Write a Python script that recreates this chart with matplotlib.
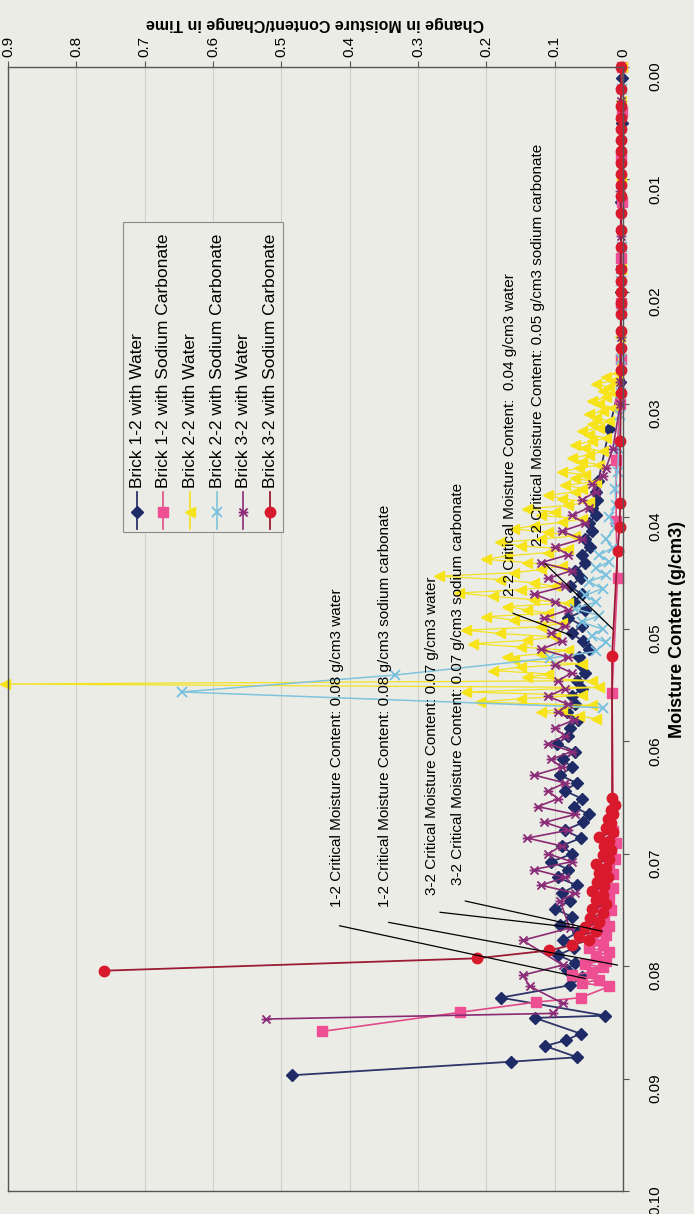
import numpy as np
import matplotlib
matplotlib.use("Agg")
import matplotlib.pyplot as plt
from matplotlib.path import Path
from matplotlib.lines import Line2D
from matplotlib.patches import Rectangle

plt.rcParams['font.family'] = ['Liberation Sans', 'DejaVu Sans']

# ---- drying-rate data: moisture content (g/cm3) and d(moisture)/dt ----
series_names = [
    "Brick 1-2 with Water",
    "Brick 1-2 with Sodium Carbonate",
    "Brick 2-2 with Water",
    "Brick 2-2 with Sodium Carbonate",
    "Brick 3-2 with Water",
    "Brick 3-2 with Sodium Carbonate",
]

b12w_m = [0.0897, 0.0885, 0.0881, 0.0871, 0.0866, 0.0860, 0.0846, 0.0844, 0.0828, 0.0817,
          0.0810, 0.0803, 0.0797, 0.0790, 0.0784, 0.0777, 0.0770, 0.0763, 0.0756, 0.0749,
          0.0742, 0.0735, 0.0728, 0.0721, 0.0714, 0.0707, 0.0700, 0.0693, 0.0686, 0.0679,
          0.0672, 0.0665, 0.0658, 0.0651, 0.0644, 0.0637, 0.0630, 0.0623, 0.0616, 0.0609,
          0.0602, 0.0595, 0.0588, 0.0581, 0.0574, 0.0567, 0.0560, 0.0553, 0.0546, 0.0539,
          0.0532, 0.0525, 0.0518, 0.0511, 0.0504, 0.0497, 0.0490, 0.0483, 0.0476, 0.0469,
          0.0462, 0.0455, 0.0448, 0.0441, 0.0434, 0.0427, 0.0420, 0.0413, 0.0406, 0.0399,
          0.0392, 0.0385, 0.0378, 0.0368, 0.0322, 0.0280, 0.0200, 0.0120, 0.0050, 0.0010]
b12w_r = [0.484, 0.164, 0.067, 0.114, 0.084, 0.062, 0.129, 0.026, 0.179, 0.078,
          0.060, 0.082, 0.070, 0.095, 0.072, 0.088, 0.066, 0.092, 0.075, 0.100,
          0.078, 0.090, 0.068, 0.095, 0.080, 0.105, 0.074, 0.090, 0.062, 0.085,
          0.058, 0.050, 0.072, 0.060, 0.085, 0.068, 0.092, 0.075, 0.088, 0.070,
          0.096, 0.080, 0.078, 0.066, 0.082, 0.070, 0.075, 0.060, 0.068, 0.055,
          0.062, 0.065, 0.050, 0.058, 0.075, 0.060, 0.080, 0.055, 0.072, 0.060,
          0.078, 0.062, 0.070, 0.055, 0.060, 0.048, 0.055, 0.045, 0.050, 0.040,
          0.045, 0.038, 0.040, 0.036, 0.020, 0.004, 0.003, 0.003, 0.002, 0.001]

b12s_m = [0.0858, 0.0841, 0.0832, 0.0828, 0.0818, 0.0815, 0.0812, 0.0808, 0.0805, 0.0801,
          0.0798, 0.0795, 0.0791, 0.0787, 0.0784, 0.0780, 0.0776, 0.0772, 0.0768, 0.0764,
          0.0760, 0.0755, 0.0750, 0.0745, 0.0740, 0.0735, 0.0730, 0.0724, 0.0718, 0.0712,
          0.0705, 0.0698, 0.0690, 0.0680, 0.0557, 0.0455, 0.0404, 0.0350, 0.0300, 0.0260,
          0.0210, 0.0170, 0.0120, 0.0080, 0.0040, 0.0000]
b12s_r = [0.440, 0.238, 0.128, 0.062, 0.020, 0.060, 0.035, 0.075, 0.045, 0.030,
          0.055, 0.025, 0.040, 0.020, 0.050, 0.030, 0.045, 0.025, 0.035, 0.020,
          0.040, 0.028, 0.018, 0.030, 0.020, 0.032, 0.015, 0.025, 0.015, 0.020,
          0.012, 0.018, 0.010, 0.014, 0.016, 0.008, 0.010, 0.010, 0.004, 0.003,
          0.003, 0.003, 0.002, 0.003, 0.002, 0.002]

b22w_m = [0.0580, 0.0577, 0.0574, 0.0571, 0.0568, 0.0565, 0.0562, 0.0559, 0.0556, 0.0552,
          0.0549, 0.0546, 0.0543, 0.0540, 0.0537, 0.0534, 0.0531, 0.0528, 0.0525, 0.0522,
          0.0519, 0.0516, 0.0513, 0.0510, 0.0507, 0.0504, 0.0501, 0.0498, 0.0495, 0.0492,
          0.0489, 0.0486, 0.0483, 0.0480, 0.0477, 0.0474, 0.0471, 0.0468, 0.0465, 0.0462,
          0.0459, 0.0456, 0.0453, 0.0450, 0.0447, 0.0444, 0.0441, 0.0438, 0.0435, 0.0432,
          0.0429, 0.0426, 0.0423, 0.0420, 0.0417, 0.0414, 0.0411, 0.0408, 0.0405, 0.0402,
          0.0399, 0.0396, 0.0393, 0.0390, 0.0387, 0.0384, 0.0381, 0.0378, 0.0375, 0.0372,
          0.0369, 0.0366, 0.0363, 0.0360, 0.0357, 0.0354, 0.0351, 0.0348, 0.0345, 0.0342,
          0.0339, 0.0336, 0.0333, 0.0330, 0.0327, 0.0324, 0.0321, 0.0318, 0.0315, 0.0312,
          0.0309, 0.0306, 0.0303, 0.0300, 0.0297, 0.0294, 0.0291, 0.0288, 0.0285, 0.0282,
          0.0279, 0.0276, 0.0272, 0.0240, 0.0180, 0.0100, 0.0030, 0.0000]
b22w_r = [0.040, 0.065, 0.120, 0.090, 0.045, 0.210, 0.150, 0.060, 0.230, 0.035,
          0.905, 0.045, 0.140, 0.110, 0.190, 0.150, 0.060, 0.160, 0.170, 0.120,
          0.080, 0.150, 0.220, 0.140, 0.100, 0.180, 0.230, 0.120, 0.090, 0.160,
          0.200, 0.110, 0.140, 0.170, 0.080, 0.130, 0.190, 0.240, 0.150, 0.100,
          0.130, 0.180, 0.270, 0.160, 0.120, 0.090, 0.140, 0.200, 0.170, 0.110,
          0.080, 0.150, 0.180, 0.120, 0.070, 0.110, 0.160, 0.130, 0.090, 0.060,
          0.120, 0.100, 0.140, 0.080, 0.050, 0.090, 0.110, 0.070, 0.060, 0.085,
          0.040, 0.070, 0.055, 0.090, 0.065, 0.035, 0.060, 0.075, 0.050, 0.030,
          0.055, 0.070, 0.045, 0.025, 0.050, 0.060, 0.035, 0.045, 0.020, 0.040,
          0.050, 0.030, 0.015, 0.035, 0.045, 0.025, 0.010, 0.030, 0.020, 0.040,
          0.015, 0.025, 0.008, 0.004, 0.003, 0.003, 0.003, 0.002]

b22s_m = [0.0570, 0.0556, 0.0541, 0.0526, 0.0520, 0.0512, 0.0506, 0.0500, 0.0494, 0.0488,
          0.0482, 0.0476, 0.0470, 0.0464, 0.0458, 0.0452, 0.0446, 0.0440, 0.0434, 0.0428,
          0.0420, 0.0410, 0.0400, 0.0390, 0.0375, 0.0360, 0.0340, 0.0310, 0.0290, 0.0260,
          0.0220, 0.0190, 0.0160, 0.0110, 0.0060, 0.0020]
b22s_r = [0.030, 0.646, 0.334, 0.107, 0.040, 0.025, 0.045, 0.030, 0.060, 0.035,
          0.070, 0.040, 0.055, 0.030, 0.050, 0.025, 0.040, 0.020, 0.035, 0.015,
          0.025, 0.012, 0.020, 0.010, 0.012, 0.008, 0.006, 0.004, 0.003, 0.003,
          0.002, 0.003, 0.002, 0.003, 0.002, 0.002]

b32w_m = [0.0847, 0.0842, 0.0833, 0.0818, 0.0808, 0.0799, 0.0777, 0.0766, 0.0742, 0.0735,
          0.0728, 0.0721, 0.0714, 0.0707, 0.0700, 0.0693, 0.0686, 0.0679, 0.0672, 0.0665,
          0.0658, 0.0651, 0.0644, 0.0637, 0.0630, 0.0623, 0.0616, 0.0609, 0.0602, 0.0595,
          0.0588, 0.0581, 0.0574, 0.0567, 0.0560, 0.0553, 0.0546, 0.0539, 0.0532, 0.0525,
          0.0518, 0.0511, 0.0504, 0.0497, 0.0490, 0.0483, 0.0476, 0.0469, 0.0462, 0.0455,
          0.0448, 0.0441, 0.0434, 0.0427, 0.0420, 0.0413, 0.0406, 0.0399, 0.0392, 0.0385,
          0.0378, 0.0371, 0.0364, 0.0357, 0.0340, 0.0300, 0.0280, 0.0240, 0.0180, 0.0150,
          0.0110, 0.0030]
b32w_r = [0.523, 0.103, 0.088, 0.136, 0.147, 0.088, 0.147, 0.078, 0.092, 0.070,
          0.120, 0.085, 0.130, 0.075, 0.110, 0.090, 0.140, 0.080, 0.115, 0.070,
          0.125, 0.095, 0.110, 0.085, 0.130, 0.090, 0.105, 0.075, 0.110, 0.085,
          0.100, 0.072, 0.095, 0.080, 0.110, 0.085, 0.095, 0.075, 0.100, 0.080,
          0.120, 0.090, 0.105, 0.085, 0.115, 0.080, 0.100, 0.130, 0.085, 0.110,
          0.075, 0.120, 0.080, 0.100, 0.060, 0.090, 0.055, 0.075, 0.050, 0.060,
          0.040, 0.045, 0.030, 0.025, 0.015, 0.004, 0.005, 0.003, 0.004, 0.003,
          0.004, 0.003]

b32s_m = [0.0804, 0.0793, 0.0786, 0.0781, 0.0777, 0.0773, 0.0769, 0.0765, 0.0761, 0.0757,
          0.0753, 0.0749, 0.0745, 0.0741, 0.0737, 0.0733, 0.0729, 0.0725, 0.0721, 0.0717,
          0.0713, 0.0709, 0.0705, 0.0701, 0.0697, 0.0693, 0.0689, 0.0685, 0.0681, 0.0677,
          0.0673, 0.0669, 0.0665, 0.0661, 0.0657, 0.0650, 0.0524, 0.0431, 0.0409, 0.0388,
          0.0333, 0.0290, 0.0270, 0.0250, 0.0235, 0.0220, 0.0210, 0.0200, 0.0190, 0.0180,
          0.0160, 0.0145, 0.0130, 0.0115, 0.0105, 0.0095, 0.0085, 0.0075, 0.0065, 0.0055,
          0.0045, 0.0035, 0.0020, 0.0000]
b32s_r = [0.759, 0.214, 0.108, 0.074, 0.050, 0.065, 0.040, 0.055, 0.035, 0.048,
          0.030, 0.045, 0.025, 0.040, 0.030, 0.045, 0.028, 0.038, 0.022, 0.035,
          0.025, 0.040, 0.020, 0.030, 0.018, 0.028, 0.020, 0.035, 0.015, 0.025,
          0.018, 0.022, 0.014, 0.018, 0.012, 0.016, 0.016, 0.008, 0.005, 0.004,
          0.004, 0.003, 0.003, 0.003, 0.003, 0.003, 0.003, 0.003, 0.003, 0.003,
          0.003, 0.003, 0.003, 0.003, 0.003, 0.003, 0.003, 0.003, 0.003, 0.003,
          0.003, 0.003, 0.003, 0.003]

# critical-moisture call-outs: text anchor, leader start and leader end (rate, moisture)
callout_text = [
    "1-2 Critical Moisture Content: 0.08 g/cm3 water",
    "1-2 Critical Moisture Content: 0.08 g/cm3 sodium carbonate",
    "3-2 Critical Moisture Content: 0.07 g/cm3 water",
    "3-2 Critical Moisture Content: 0.07 g/cm3 sodium carbonate",
    "2-2 Critical Moisture Content:  0.04 g/cm3 water",
    "2-2 Critical Moisture Content: 0.05 g/cm3 sodium carbonate",
]
callout_text_r = [0.419, 0.349, 0.279, 0.242, 0.165, 0.125]
callout_text_m = [0.0747, 0.0747, 0.0737, 0.0728, 0.0471, 0.0426]
callout_from_r = [0.415, 0.343, 0.268, 0.231, 0.161, 0.114]
callout_from_m = [0.0764, 0.0761, 0.0752, 0.0742, 0.0486, 0.0442]
callout_to_r = [0.055, 0.008, 0.067, 0.030, 0.075, 0.015]
callout_to_m = [0.0811, 0.0799, 0.0766, 0.0769, 0.0506, 0.0500]

rate_ticks = [0.0, 0.1, 0.2, 0.3, 0.4, 0.5, 0.6, 0.7, 0.8, 0.9]
rate_tick_labels = ["0", "0.1", "0.2", "0.3", "0.4", "0.5", "0.6", "0.7", "0.8", "0.9"]
moist_ticks = [0.00, 0.01, 0.02, 0.03, 0.04, 0.05, 0.06, 0.07, 0.08, 0.09, 0.10]
moist_tick_labels = ["0.00", "0.01", "0.02", "0.03", "0.04", "0.05",
                     "0.06", "0.07", "0.08", "0.09", "0.10"]

# ---- styling ----
PAPER = "#ecece7"
asterisk = Path([(-1, -1), (1, 1), (-1, 1), (1, -1), (-1.2, 0), (1.2, 0)],
                [Path.MOVETO, Path.LINETO, Path.MOVETO, Path.LINETO, Path.MOVETO, Path.LINETO])

styles = [
    dict(color="#2c3468", marker="D", mfc="#1f2b66", mec="#1f2b66", ms=6.5, lw=1.3),
    dict(color="#e04a86", marker="s", mfc="#ee4f93", mec="#ee4f93", ms=6.5, lw=1.2),
    dict(color="#f3e21e", marker="<", mfc="#f7e31a", mec="#f7e31a", ms=7, lw=0.9),
    dict(color="#7fc3dc", marker="x", mfc="none", mec="#76c0dd", ms=7, mew=1.3, lw=1.1),
    dict(color="#8a2a73", marker=asterisk, mfc="none", mec="#8b2d78", ms=7, mew=1.3, lw=1.2),
    dict(color="#9a1b33", marker="o", mfc="#d81a2c", mec="#d81a2c", ms=7.5, lw=1.3),
]
data = [(b12w_r, b12w_m), (b12s_r, b12s_m), (b22w_r, b22w_m),
        (b22s_r, b22s_m), (b32w_r, b32w_m), (b32s_r, b32s_m)]

fig = plt.figure(figsize=(6.94, 12.14), dpi=100)
fig.patch.set_facecolor(PAPER)
AX_L, AX_R, AX_T, AX_B = 8, 623, 67, 1191
ax = fig.add_axes([AX_L / 694, 1 - AX_B / 1214, (AX_R - AX_L) / 694, (AX_B - AX_T) / 1214])
ax.set_facecolor(PAPER)

for (r, m), st in zip(data, styles):
    ax.plot(r, m, clip_on=False, **st)

ax.set_xlim(0.9, 0.0)
ax.set_ylim(0.10, 0.0)

ax.set_axisbelow(True)
ax.grid(axis="x", color="#d0d0cb", lw=0.8)
ax.grid(axis="y", visible=False)
for sp in ax.spines.values():
    sp.set_color("#555555")
    sp.set_linewidth(1.0)

ax.xaxis.tick_top()
ax.set_xticks(rate_ticks)
ax.set_xticklabels(rate_tick_labels)
ax.tick_params(axis="x", top=True, bottom=False, labeltop=True, labelbottom=False,
               labelrotation=90, direction="out", length=4, pad=3,
               labelsize=11, color="#555555")
ax.yaxis.tick_right()
ax.set_yticks(moist_ticks)
ax.set_yticklabels(moist_tick_labels)
ax.tick_params(axis="y", right=True, left=False, labelright=True, labelleft=False,
               labelrotation=90, direction="out", length=4, pad=14,
               labelsize=11, color="#555555")

ax.xaxis.set_label_position("top")
ax.set_xlabel("Change in Moisture Content/Change in Time", rotation=180,
              fontweight="bold", fontsize=11.5, labelpad=6)
ax.yaxis.set_label_position("right")
ax.set_ylabel("Moisture Content (g/cm3)", rotation=90, fontweight="bold",
              fontsize=13, labelpad=5)

# call-outs
for txt, tr, tm, fr, fm, er, em in zip(callout_text, callout_text_r, callout_text_m,
                                       callout_from_r, callout_from_m,
                                       callout_to_r, callout_to_m):
    ax.text(tr, tm, txt, rotation=90, ha="center", va="bottom", fontsize=11)
    ax.annotate("", xy=(er, em), xytext=(fr, fm),
                arrowprops=dict(arrowstyle="-", color="black", lw=0.9,
                                shrinkA=0, shrinkB=0))

# legend drawn in rotated layout
lx0, lx1, ly0, ly1 = 0.1873, 0.4479, 0.5861, 0.8623
ax.add_patch(Rectangle((lx0, ly0), lx1 - lx0, ly1 - ly0, transform=ax.transAxes,
                       facecolor=PAPER, edgecolor="#8a8a8a", lw=0.8, zorder=5))
col_x = [0.2101, 0.2524, 0.2964, 0.3404, 0.3827, 0.4267]
for name, st, cx in zip(series_names, styles, col_x):
    ax.add_line(Line2D([cx, cx], [0.5888, 0.6217], transform=ax.transAxes, zorder=6,
                       color=st["color"], lw=max(st["lw"], 1.2)))
    ax.add_line(Line2D([cx], [0.6039], transform=ax.transAxes, zorder=6, ls="none",
                       marker=st["marker"], mfc=st["mfc"], mec=st["mec"], ms=st["ms"],
                       mew=st.get("mew", 1.0)))
    ax.text(cx, 0.6250, name, transform=ax.transAxes, rotation=90, ha="center",
            va="bottom", fontsize=12.5, zorder=7)

fig.savefig("out.png", dpi=100, facecolor=PAPER)
